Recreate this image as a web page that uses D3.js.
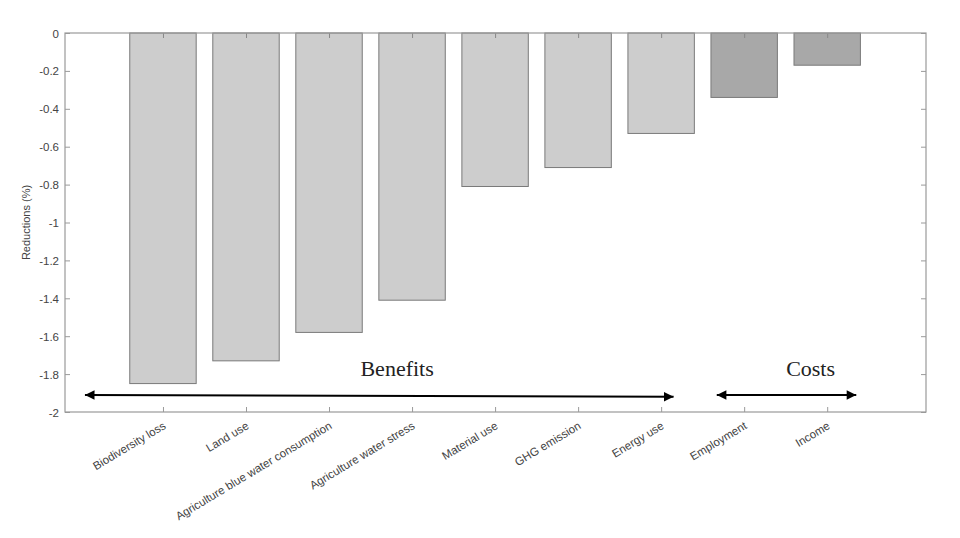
<!DOCTYPE html>
<html>
<head>
<meta charset="utf-8">
<script src="https://cdn.jsdelivr.net/npm/d3@7"></script>
<style>
  body { margin: 0; background: #fff; }
  svg text { font-family: Arial, "Liberation Sans", sans-serif; }
</style>
</head>
<body>
<div id="chart"></div>
<script>
// Data
var categories = ["Biodiversity loss", "Land use", "Agriculture blue water consumption",
  "Agriculture water stress", "Material use", "GHG emission", "Energy use", "Employment", "Income"];
var values = [-1.85, -1.73, -1.58, -1.41, -0.81, -0.71, -0.53, -0.34, -0.17];
var groups = ["benefit", "benefit", "benefit", "benefit", "benefit", "benefit", "benefit", "cost", "cost"];
var yTicks = [0, -0.2, -0.4, -0.6, -0.8, -1, -1.2, -1.4, -1.6, -1.8, -2];
// annotation arrows, in category-index / value space
var arrows = [
  {label: "Benefits", x0: -0.94, x1: 6.15, y0: -1.91, y1: -1.92, labelX: 2.82},
  {label: "Costs", x0: 6.67, x1: 8.35, y0: -1.91, y1: -1.91, labelX: 7.8}
];

var W = 960, H = 538,
  margin = {top: 33, right: 34, bottom: 126, left: 65},
  width = W - margin.left - margin.right,
  height = H - margin.top - margin.bottom;

var svg = d3.select("#chart").append("svg")
  .attr("width", W)
  .attr("height", H);

var defs = svg.append("defs");
defs.append("marker")
  .attr("id", "head")
  .attr("viewBox", "0 0 10 10")
  .attr("refX", 10).attr("refY", 5)
  .attr("markerWidth", 6).attr("markerHeight", 4.8)
  .attr("markerUnits", "strokeWidth")
  .attr("orient", "auto-start-reverse")
  .append("path")
    .attr("d", "M0,0L10,5L0,10Z")
    .attr("fill", "#000");

var g = svg.append("g")
  .attr("transform", "translate(" + margin.left + "," + margin.top + ")");

// X scale over category index, Y linear
var xScale = d3.scaleLinear().domain([-1.18, 9.19]).range([0, width]),
  yScale = d3.scaleLinear().domain([0, -2]).range([0, height]),
  barW = xScale(0.8) - xScale(0);

// Bars
g.selectAll("rect.bar")
  .data(values).enter().append("rect")
    .attr("class", "bar")
    .attr("x", function(d, i) { return xScale(i) - barW / 2; })
    .attr("y", yScale(0))
    .attr("width", barW)
    .attr("height", function(d) { return yScale(d) - yScale(0); })
    .attr("fill", function(d, i) { return groups[i] === "cost" ? "#a8a8a8" : "#cdcdcd"; })
    .attr("stroke", "#7a7a7a")
    .attr("stroke-width", 1);

var axisColor = "#9a9a9a", textColor = "#444";

// Y axis left
var yAxis = g.append("g")
  .attr("class", "axis axis--y")
  .call(d3.axisRight(yScale).tickValues(yTicks).tickSize(5).tickFormat(""));
yAxis.select(".domain").remove();
yAxis.selectAll("text").remove();
yAxis.selectAll("line").attr("stroke", axisColor);
yAxis.selectAll(".tick").append("text")
  .attr("x", -6).attr("dy", "0.35em")
  .attr("text-anchor", "end")
  .attr("fill", textColor)
  .attr("font-size", 11.5)
  .text(function(d) { return String(d); });

// Y axis right (mirrored ticks)
var yAxisR = g.append("g")
  .attr("transform", "translate(" + width + ",0)")
  .call(d3.axisLeft(yScale).tickValues(yTicks).tickSize(5).tickFormat(""));
yAxisR.select(".domain").remove();
yAxisR.selectAll("line").attr("stroke", axisColor);

// X axis bottom
var xAxis = g.append("g")
  .attr("transform", "translate(0," + height + ")")
  .call(d3.axisTop(xScale).tickValues(d3.range(categories.length)).tickSize(5).tickFormat(""));
xAxis.select(".domain").remove();
xAxis.selectAll("line").attr("stroke", axisColor);
xAxis.selectAll(".tick").append("text")
  .attr("transform", "translate(-1,9) rotate(-31)")
  .attr("text-anchor", "end")
  .attr("dy", "0.7em")
  .attr("fill", textColor)
  .attr("font-size", 11.5)
  .text(function(d) { return categories[d]; });

// X axis top (mirrored ticks)
var xAxisT = g.append("g")
  .call(d3.axisBottom(xScale).tickValues(d3.range(categories.length)).tickSize(5).tickFormat(""));
xAxisT.select(".domain").remove();
xAxisT.selectAll("line").attr("stroke", "#888");

// Box
g.append("rect")
  .attr("width", width).attr("height", height)
  .attr("fill", "none")
  .attr("stroke", axisColor)
  .attr("stroke-width", 1.2);

// Y label
g.append("text")
  .attr("transform", "translate(" + (-35) + "," + (height / 2) + ") rotate(-90)")
  .attr("text-anchor", "middle")
  .attr("fill", textColor)
  .attr("font-size", 11)
  .text("Reductions (%)");

// Arrows with labels
arrows.forEach(function(a) {
  g.append("line")
    .attr("x1", xScale(a.x0)).attr("y1", yScale(a.y0))
    .attr("x2", xScale(a.x1)).attr("y2", yScale(a.y1))
    .attr("stroke", "#000")
    .attr("stroke-width", 2)
    .attr("marker-start", "url(#head)")
    .attr("marker-end", "url(#head)");
  g.append("text")
    .attr("x", xScale(a.labelX))
    .attr("y", yScale(a.y0) - 19)
    .attr("text-anchor", "middle")
    .style("font-family", "'Liberation Serif', 'Times New Roman', serif")
    .attr("font-size", 22)
    .attr("fill", "#222")
    .text(a.label);
});
</script>
</body>
</html>
